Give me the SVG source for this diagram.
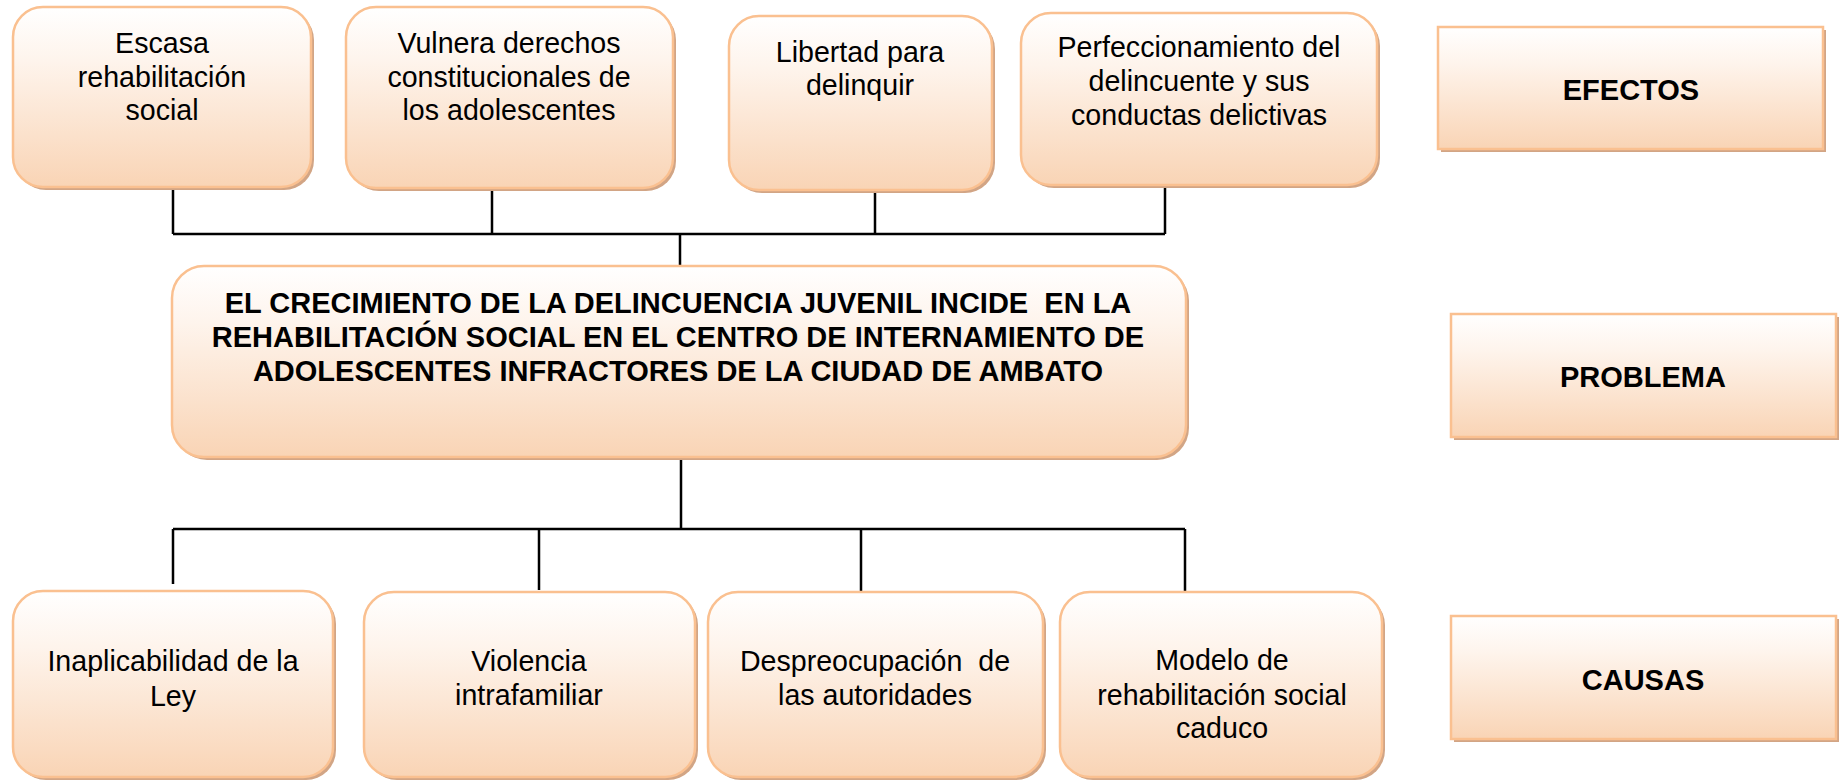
<svg xmlns="http://www.w3.org/2000/svg" width="1840" height="781" viewBox="0 0 1840 781">
<defs>
<linearGradient id="g" x1="0" y1="0" x2="0" y2="1">
<stop offset="0" stop-color="#FFFFFF"/>
<stop offset="0.3" stop-color="#FEF4EC"/>
<stop offset="1" stop-color="#F9D4B5"/>
</linearGradient>
</defs>
<style>
.box{fill:url(#g);stroke:#FAC090;stroke-width:2.5}
.sh{fill:#D2A585}
.t{font-family:"Liberation Sans",Arial,sans-serif;font-size:28.6px;fill:#000;text-anchor:middle}
.b{font-weight:bold;font-size:29px}
.c{stroke:#000;stroke-width:2.5;fill:none}
</style>
<rect width="1840" height="781" fill="#FFFFFF"/>

<g id="connectors">
<path class="c" d="M173,188 V234 M492,190 V234 M875,190 V234 M1165,185 V234 M173,234 H1165 M680,234 V266"/>
<path class="c" d="M681,459 V529 M173,529 H1185 M173,529 V584 M539,529 V590 M861,529 V591 M1185,529 V591"/>
</g>

<g id="e1">
<rect class="sh" x="16" y="10" width="298" height="180" rx="30"/>
<rect class="box" x="13" y="7" width="298" height="180" rx="30"/>
<text class="t" x="162" y="53">Escasa</text>
<text class="t" x="162" y="87">rehabilitación</text>
<text class="t" x="162" y="120">social</text>
</g>

<g id="e2">
<rect class="sh" x="349" y="10" width="327" height="181" rx="30"/>
<rect class="box" x="346" y="7" width="327" height="181" rx="30"/>
<text class="t" x="509" y="53">Vulnera derechos</text>
<text class="t" x="509" y="87">constitucionales de</text>
<text class="t" x="509" y="120">los adolescentes</text>
</g>

<g id="e3">
<rect class="sh" x="732" y="19" width="263" height="174" rx="30"/>
<rect class="box" x="729" y="16" width="263" height="174" rx="30"/>
<text class="t" x="860" y="62">Libertad para</text>
<text class="t" x="860" y="95">delinquir</text>
</g>

<g id="e4">
<rect class="sh" x="1024" y="16" width="356" height="172" rx="30"/>
<rect class="box" x="1021" y="13" width="356" height="172" rx="30"/>
<text class="t" x="1199" y="57">Perfeccionamiento del</text>
<text class="t" x="1199" y="91">delincuente y sus</text>
<text class="t" x="1199" y="125">conductas delictivas</text>
</g>

<g id="problema">
<rect class="sh" x="175" y="269" width="1014" height="191" rx="32"/>
<rect class="box" x="172" y="266" width="1014" height="191" rx="32"/>
<text class="t b" x="678" y="313" xml:space="preserve">EL CRECIMIENTO DE LA DELINCUENCIA JUVENIL INCIDE  EN LA</text>
<text class="t b" x="678" y="347">REHABILITACIÓN SOCIAL EN EL CENTRO DE INTERNAMIENTO DE</text>
<text class="t b" x="678" y="381">ADOLESCENTES INFRACTORES DE LA CIUDAD DE AMBATO</text>
</g>

<g id="c1">
<rect class="sh" x="16" y="594" width="320" height="186" rx="30"/>
<rect class="box" x="13" y="591" width="320" height="186" rx="30"/>
<text class="t" x="173" y="671">Inaplicabilidad de la</text>
<text class="t" x="173" y="706">Ley</text>
</g>

<g id="c2">
<rect class="sh" x="367" y="595" width="331" height="185" rx="30"/>
<rect class="box" x="364" y="592" width="331" height="185" rx="30"/>
<text class="t" x="529" y="671">Violencia</text>
<text class="t" x="529" y="705">intrafamiliar</text>
</g>

<g id="c3">
<rect class="sh" x="711" y="595" width="335" height="185" rx="30"/>
<rect class="box" x="708" y="592" width="335" height="185" rx="30"/>
<text class="t" x="875" y="671" xml:space="preserve">Despreocupación  de</text>
<text class="t" x="875" y="705">las autoridades</text>
</g>

<g id="c4">
<rect class="sh" x="1063" y="595" width="322" height="185" rx="30"/>
<rect class="box" x="1060" y="592" width="322" height="185" rx="30"/>
<text class="t" x="1222" y="670">Modelo de</text>
<text class="t" x="1222" y="705">rehabilitación social</text>
<text class="t" x="1222" y="738">caduco</text>
</g>

<g id="efectos">
<rect class="sh" x="1441" y="30" width="385" height="122"/>
<rect class="box" x="1438" y="27" width="385" height="122"/>
<text class="t b" x="1631" y="100">EFECTOS</text>
</g>

<g id="problema-label">
<rect class="sh" x="1454" y="317" width="385" height="123"/>
<rect class="box" x="1451" y="314" width="385" height="123"/>
<text class="t b" x="1643" y="387">PROBLEMA</text>
</g>

<g id="causas">
<rect class="sh" x="1454" y="619" width="385" height="123"/>
<rect class="box" x="1451" y="616" width="385" height="123"/>
<text class="t b" x="1643" y="690">CAUSAS</text>
</g>
</svg>
